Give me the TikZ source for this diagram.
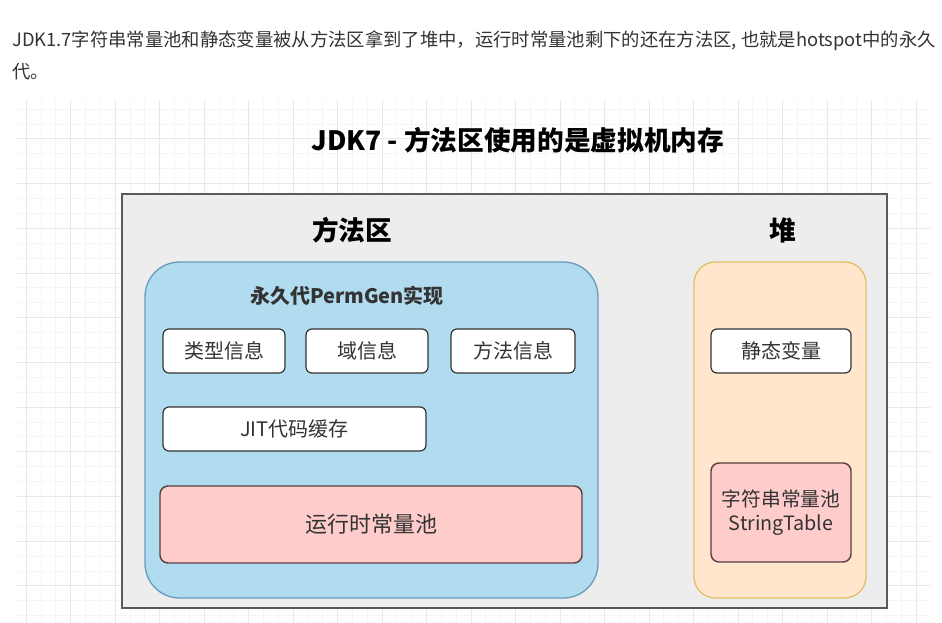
\documentclass[tikz,border=0pt]{standalone}
\usepackage{fontspec}
\setmainfont{Noto Sans CJK SC}
\usepackage{xcolor}
\usepackage{tikz}
\usetikzlibrary{positioning}

\definecolor{txt}{HTML}{333333}
\definecolor{gridmin}{HTML}{F5F5F5}
\definecolor{gridmaj}{HTML}{E8E8E8}
\definecolor{outerfill}{HTML}{EDEDED}
\definecolor{outerline}{HTML}{5A5A5A}
\definecolor{permfill}{HTML}{B1DCF0}
\definecolor{permline}{HTML}{6A9CBE}
\definecolor{heapfill}{HTML}{FFE6CC}
\definecolor{heapline}{HTML}{E2C06A}
\definecolor{poolfill}{HTML}{FFCCCC}
\definecolor{poolline}{HTML}{5A4040}

\begin{document}
\begin{tikzpicture}[
    x=0.75pt, y=-0.75pt,
    area/.style={draw=outerline, fill=outerfill, line width=1pt, minimum width=573.75pt, minimum height=310.5pt},
    region/.style={line width=1pt, rounded corners=#1},
    infobox/.style={draw=txt, fill=white, line width=0.9pt, rounded corners=4.5pt, minimum height=33pt, font=\fontsize{15}{18}\selectfont, text=txt, inner sep=0pt},
    poolbox/.style={draw=poolline, fill=poolfill, line width=1.1pt, rounded corners=6pt, text=txt, align=center, inner sep=0pt},
    heading/.style={font=\bfseries\fontsize{20}{24}\selectfont, text=black},
    para/.style={anchor=west, font=\fontsize{13.75}{16}\selectfont, text=txt, inner sep=0pt}
]
\useasboundingbox (0,0) rectangle (942,623);
\fill[white] (0,0) rectangle (942,623);

% Intro text
\node[para] (line1) at (12,41) {JDK1.7字符串常量池和静态变量被从方法区拿到了堆中，运行时常量池剩下的还在方法区, 也就是hotspot中的永久};
\node[para] (line2) at (12,72) {代。};

% Grid background
\begin{scope}
\clip (17,100) rectangle (930,623);
\foreach \k in {0,...,61} {
    \pgfmathsetmacro{\gx}{26+14.83*\k}
    \draw[gridmin] (\gx,100) -- (\gx,623);
}
\foreach \k in {0,...,35} {
    \pgfmathsetmacro{\gy}{94+14.9*\k}
    \draw[gridmin] (17,\gy) -- (930,\gy);
}
\foreach \k in {0,...,20} {
    \pgfmathsetmacro{\gx}{26+44.5*\k}
    \draw[gridmaj] (\gx,100) -- (\gx,623);
}
\foreach \k in {0,...,12} {
    \pgfmathsetmacro{\gy}{94+44.7*\k}
    \draw[gridmaj] (17,\gy) -- (930,\gy);
}
\end{scope}

% Title
\node[heading] (title) at (518,140) {JDK7 - 方法区使用的是虚拟机内存};

% Outer area
\node[area] (jvm) at (504.5,401) {};
\node[heading] (methodlbl) at (352,230) {方法区};
\node[heading] (heaplbl) at (783,230) {堆};

% PermGen and heap
\node[region=26pt, draw=permline, fill=permfill, minimum width=339.75pt, minimum height=252pt] (permgen) at (371.5,430) {};
\node[region=16pt, draw=heapline, fill=heapfill, minimum width=129pt, minimum height=252pt] (heap) at (780,430) {};
\node[font=\bfseries\fontsize{15}{18}\selectfont, text=txt] (permlbl) at (347,296) {永久代PermGen实现};

% Contents of PermGen
\node[infobox, minimum width=91.5pt] (typeinfo) at (224,351) {类型信息};
\node[infobox, minimum width=91.5pt] (fieldinfo) at (367,351) {域信息};
\node[infobox, minimum width=93pt] (methodinfo) at (513,351) {方法信息};
\node[infobox, minimum width=197.25pt] (jitcache) at (294.5,429) {JIT代码缓存};
\node[poolbox, minimum width=316.5pt, minimum height=57.75pt, font=\fontsize{16.5}{20}\selectfont] (rtpool) at (371,524.5) {运行时常量池};

% Contents of heap
\node[infobox, minimum width=105pt] (staticvars) at (781,351) {静态变量};
\node[poolbox, minimum width=105pt, minimum height=74.25pt, font=\fontsize{14.8}{18}\selectfont] (strtable) at (781,512.5) {字符串常量池\\StringTable};

\end{tikzpicture}
\end{document}
